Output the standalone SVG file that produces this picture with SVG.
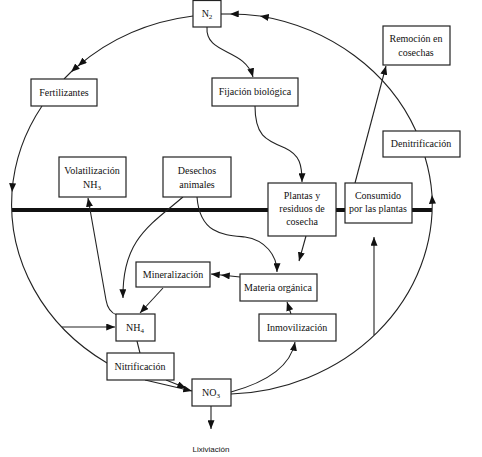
<svg xmlns="http://www.w3.org/2000/svg" width="482" height="457" viewBox="0 0 482 457">
<defs>
<marker id="ah" viewBox="0 0 10 8" refX="10" refY="4" markerWidth="9" markerHeight="7" markerUnits="userSpaceOnUse" orient="auto">
<path d="M0,0 L10,4 L0,8 Z" fill="#111"/>
</marker>
</defs>
<style>
.box{fill:#fff;stroke:#222;stroke-width:1.2}
.t{font-family:"Liberation Serif","Times New Roman",serif;font-size:10px;fill:#111;text-anchor:middle}
.s{font-family:"Liberation Sans",Arial,sans-serif;font-size:8px;fill:#111;text-anchor:middle}
.c{fill:none;stroke:#222;stroke-width:1.1}
.a{marker-end:url(#ah)}
.bar{stroke:#111;stroke-width:4}
</style>
<rect width="482" height="457" fill="#fff"/>
<line class="bar" x1="12" y1="210" x2="432" y2="210"/>
<g id="connectors">
<path class="c a" d="M193,16 A210,190 0 0 0 78,66"/>
<path class="c a" d="M78,66 A210,190 0 0 0 71,72"/>
<path class="c" d="M71,72 L64,79"/>
<path class="c a" d="M42,106 A210,190 0 0 0 12,192"/>
<path class="c" d="M12,192 A210,190 0 0 0 107,363"/>
<path class="c a" d="M62,327 L115,327"/>
<path class="c a" d="M231,394 A210,190 0 0 0 432,195"/>
<path class="c" d="M432,195 A210,190 0 0 0 425,157"/>
<path class="c a" d="M416,131 A210,190 0 0 0 260,16"/>
<path class="c a" d="M260,16 A210,190 0 0 0 230,14"/>
<path class="c" d="M230,14 L221,14"/>
<path class="c a" d="M207,27 C205,55 245,48 253,77"/>
<path class="c a" d="M255,106 C255,135 265,140 285,148 C300,155 302,165 302,182"/>
<path class="c a" d="M183,197 C150,225 122,240 123,298"/>
<path class="c a" d="M197,197 C200,235 225,235 245,237 C265,240 277,255 277,272"/>
<path class="c a" d="M306,236 L299,261"/>
<path class="c a" d="M240,277 L221,275"/>
<path class="c a" d="M221,275 L211,274"/>
<path class="c a" d="M163,288 L140,313"/>
<path class="c a" d="M117,315 Q108,312 106,300 L88,198"/>
<path class="c" d="M137,341 L140,353"/>
<path class="c a" d="M145,380 L192,391"/>
<path class="c a" d="M166,380 L186,388"/>
<path class="c a" d="M231,392 C260,384 290,370 295,342"/>
<path class="c a" d="M291,314 L287,302"/>
<path class="c a" d="M374,335 L374,237"/>
<path class="c a" d="M355,183 L386,66"/>
<path class="c a" d="M211,406 L211,429"/>
</g>
<g id="n2"><rect class="box" x="193" y="0.5" width="28" height="26.5"/><text class="t" x="207" y="17">N<tspan font-size="7" dy="2">2</tspan></text></g>
<g id="fertilizantes"><rect class="box" x="31" y="79" width="66" height="27"/><text class="t" x="64" y="96">Fertilizantes</text></g>
<g id="fijacion"><rect class="box" x="212" y="78" width="86" height="28"/><text class="t" x="255" y="95">Fijación biológica</text></g>
<g id="remocion"><rect class="box" x="383" y="26" width="67" height="39"/><text class="t" x="416" y="42">Remoción en</text><text class="t" x="416" y="56">cosechas</text></g>
<g id="denitrificacion"><rect class="box" x="383" y="131" width="77" height="26"/><text class="t" x="421" y="147">Denitrificación</text></g>
<g id="volatilizacion"><rect class="box" x="59" y="157" width="67" height="40"/><text class="t" x="92" y="174">Volatilización</text><text class="t" x="92" y="188">NH<tspan font-size="7" dy="2">3</tspan></text></g>
<g id="desechos"><rect class="box" x="163" y="157" width="68" height="40"/><text class="t" x="197" y="174">Desechos</text><text class="t" x="197" y="188">animales</text></g>
<g id="plantas"><rect class="box" x="268" y="183" width="68" height="53"/><text class="t" x="302" y="199">Plantas y</text><text class="t" x="302" y="212">residuos de</text><text class="t" x="302" y="225">cosecha</text></g>
<g id="consumido"><rect class="box" x="345" y="183" width="67" height="40"/><text class="t" x="378" y="199">Consumido</text><text class="t" x="378" y="212">por las plantas</text></g>
<g id="mineralizacion"><rect class="box" x="136" y="262" width="74" height="25"/><text class="t" x="173" y="278">Mineralización</text></g>
<g id="materia"><rect class="box" x="240" y="274" width="77" height="27"/><text class="t" x="278" y="291">Materia orgánica</text></g>
<g id="inmovilizacion"><rect class="box" x="259" y="314" width="77" height="27"/><text class="t" x="297" y="331">Inmovilización</text></g>
<g id="nh4"><rect class="box" x="116" y="314" width="39" height="27"/><text class="t" x="135" y="331">NH<tspan font-size="7" dy="2">4</tspan></text></g>
<g id="nitrificacion"><rect class="box" x="107" y="353" width="67" height="27"/><text class="t" x="140" y="370">Nitrificación</text></g>
<g id="no3"><rect class="box" x="192" y="379" width="39" height="27"/><text class="t" x="211" y="396">NO<tspan font-size="7" dy="2">3</tspan></text></g>
<g id="lixiviacion"><text class="s" x="211" y="452">Lixiviación</text></g>
</svg>
